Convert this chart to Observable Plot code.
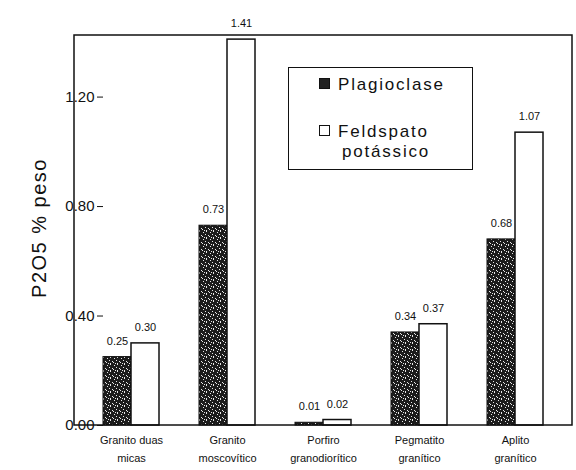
<!DOCTYPE html>
<html>
<head>
<meta charset="utf-8">
<script src="https://cdn.jsdelivr.net/npm/d3@7"></script>
<script src="https://cdn.jsdelivr.net/npm/@observablehq/plot@0.6"></script>
<style>
  html, body { margin: 0; padding: 0; background: #fff; }
  #wrap { position: relative; width: 576px; height: 470px; font-family: "Liberation Sans", Arial, sans-serif; }
  #legend { position: absolute; left: 288px; top: 67px; width: 183px; height: 101px; border: 1.5px solid #111; background: #fff; font-size: 17px; color: #111; letter-spacing: 1.8px; line-height: 20px; }
  #legend .row { position: absolute; left: 30px; white-space: nowrap; }
  #legend .sw { display: inline-block; width: 9px; height: 9px; border: 1px solid #111; margin-right: 8px; vertical-align: 1px; }
</style>
</head>
<body>
<div id="wrap">
  <div id="chart"></div>
  <div id="legend">
    <div class="row" style="top:7px"><span class="sw" style="background:#222"></span>Plagioclase</div>
    <div class="row" style="top:54px"><span class="sw" style="background:#fff"></span>Feldspato</div>
    <div class="row" style="top:74px; left:53px">potássico</div>
  </div>
</div>
<script>
const categories = ["Granito duas micas", "Granito moscovítico", "Porfiro granodiorítico", "Pegmatito granítico", "Aplito granítico"];
const categoryLabels = ["Granito duas\nmicas", "Granito\nmoscovítico", "Porfiro\ngranodiorítico", "Pegmatito\ngranítico", "Aplito\ngranítico"];
const seriesNames = ["Plagioclase", "Feldspato potássico"];
const plagioclase = [0.25, 0.73, 0.01, 0.34, 0.68];
const feldspato = [0.30, 1.41, 0.02, 0.37, 1.07];
const yTicks = [0, 0.4, 0.8, 1.2];
const yLabel = "P2O5 % peso";

const rows = [];
categories.forEach((c, i) => {
  rows.push({cat: c, series: seriesNames[0], value: plagioclase[i]});
  rows.push({cat: c, series: seriesNames[1], value: feldspato[i]});
});
const plagRows = rows.filter(d => d.series === seriesNames[0]);
const feldRows = rows.filter(d => d.series === seriesNames[1]);
const labelOf = new Map(categories.map((c, i) => [c, categoryLabels[i]]));

const W = 576, H = 470, mL = 74, mR = 4, mT = 35, mB = 45;

const chart = Plot.plot({
  width: W,
  height: H,
  marginLeft: mL,
  marginRight: mR,
  marginTop: mT,
  marginBottom: mB,
  style: {fontFamily: "Liberation Sans, Arial, sans-serif", color: "#111", background: "#fff"},
  fx: {domain: categories, padding: 0.42, paddingOuter: 0.3, label: null, axis: null},
  x: {domain: seriesNames, padding: 0, axis: null},
  y: {domain: [0, 1.425], label: null},
  marks: [
    Plot.axisY({ticks: yTicks, tickFormat: d => d.toFixed(2), fontSize: 15, tickSize: 6, tickPadding: 3, label: null}),
    Plot.axisFx({anchor: "bottom", tickFormat: d => labelOf.get(d), fontSize: 11, tickSize: 0, tickPadding: 5, lineHeight: 1.7, label: null}),
    Plot.barY(plagRows, {fx: "cat", x: "series", y: "value", fill: "url(#stipple)", stroke: "#111", strokeWidth: 1}),
    Plot.barY(feldRows, {fx: "cat", x: "series", y: "value", fill: "#fff", stroke: "#111", strokeWidth: 1.5}),
    Plot.text(rows, {fx: "cat", x: "series", y: "value", text: d => d.value.toFixed(2), dy: -16, fontSize: 11, fill: "#111"})
  ]
});

document.getElementById("chart").appendChild(chart);

const svg = d3.select(chart);
const defs = svg.insert("defs", ":first-child");
const pat = defs.append("pattern").attr("id", "stipple").attr("patternUnits", "userSpaceOnUse")
  .attr("width", 7).attr("height", 7);
pat.append("rect").attr("width", 7).attr("height", 7).attr("fill", "#1c1c1c");
[[1,1],[4,0],[3,3],[6,4],[0,5],[4,6],[2,6]].forEach(([px, py]) => {
  pat.append("rect").attr("x", px).attr("y", py).attr("width", 1).attr("height", 1).attr("fill", "#e8e8e8");
});

// plot frame
svg.append("rect").attr("x", mL).attr("y", mT).attr("width", W - mL - mR).attr("height", H - mT - mB)
  .attr("fill", "none").attr("stroke", "#111").attr("stroke-width", 1.5);

// y axis title
svg.append("text").attr("transform", `translate(46,${(mT + H - mB) / 2 - 2}) rotate(-90)`)
  .attr("text-anchor", "middle").attr("font-size", 20).attr("letter-spacing", "1.5px").attr("fill", "#111")
  .attr("font-family", "Liberation Sans, Arial, sans-serif").text(yLabel);
</script>
</body>
</html>
